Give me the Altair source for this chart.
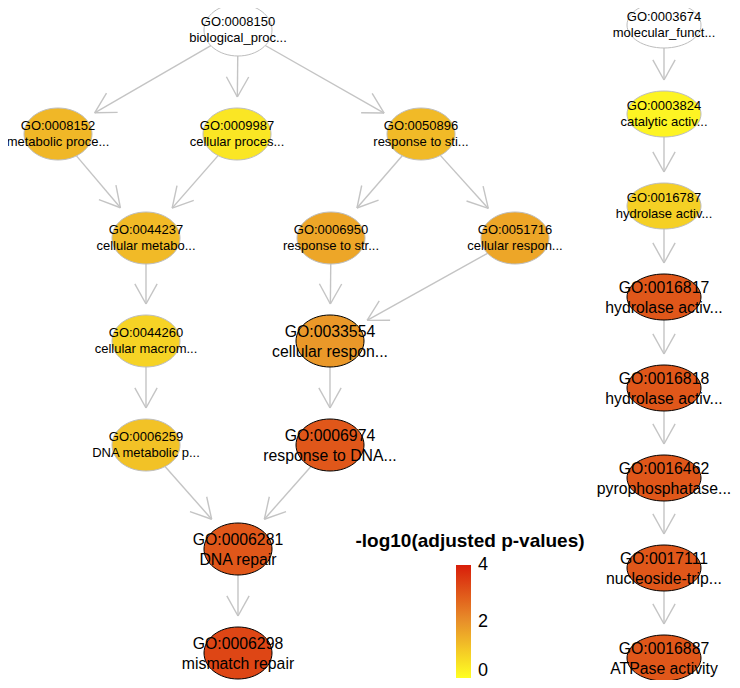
import math
import altair as alt
import pandas as pd

# ---------------- data ----------------
node_ids = ["GO:0008150", "GO:0008152", "GO:0009987", "GO:0050896",
            "GO:0044237", "GO:0006950", "GO:0051716", "GO:0044260",
            "GO:0033554", "GO:0006259", "GO:0006974", "GO:0006281",
            "GO:0006298",
            "GO:0003674", "GO:0003824", "GO:0016787", "GO:0016817",
            "GO:0016818", "GO:0016462", "GO:0017111", "GO:0016887"]
node_terms = ["biological_proc...", "metabolic proce...", "cellular proces...",
              "response to sti...", "cellular metabo...", "response to str...",
              "cellular respon...", "cellular macrom...", "cellular respon...",
              "DNA metabolic p...", "response to DNA...", "DNA repair",
              "mismatch repair",
              "molecular_funct...", "catalytic activ...", "hydrolase activ...",
              "hydrolase activ...", "hydrolase activ...", "pyrophosphatase...",
              "nucleoside-trip...", "ATPase activity"]
# layout position of each node (graph layout units)
node_x = [238, 58, 237, 421, 146, 331, 515, 146, 330, 146, 330, 238, 238,
          664, 664, 664, 664, 664, 664, 664, 664]
node_y = [30, 134, 134, 134, 238, 238, 238, 341, 341, 445, 445, 549, 653,
          25, 114, 206, 297, 388, 478, 568, 658]
# -log10(adjusted p-value); None = not tested (root)
node_value = [None, 1.3, 0.45, 1.25, 1.25, 1.6, 1.6, 0.8, 1.85, 1.1, 3.0, 3.0, 3.3,
              None, 0.2, 0.85, 3.0, 3.0, 3.0, 3.0, 3.0]
node_sig = [False, False, False, False, False, False, False, False, True, False,
            True, True, True,
            False, False, False, True, True, True, True, True]
node_tree = ["BP"] * 13 + ["MF"] * 8

edge_from = ["GO:0008150", "GO:0008150", "GO:0008150", "GO:0008152", "GO:0009987",
             "GO:0050896", "GO:0050896", "GO:0044237", "GO:0006950", "GO:0051716",
             "GO:0044260", "GO:0033554", "GO:0006259", "GO:0006974", "GO:0006281",
             "GO:0003674", "GO:0003824", "GO:0016787", "GO:0016817", "GO:0016818",
             "GO:0016462", "GO:0017111"]
edge_to = ["GO:0008152", "GO:0009987", "GO:0050896", "GO:0044237", "GO:0044237",
           "GO:0006950", "GO:0051716", "GO:0044260", "GO:0033554", "GO:0033554",
           "GO:0006259", "GO:0006974", "GO:0006281", "GO:0006281", "GO:0006298",
           "GO:0003824", "GO:0016787", "GO:0016817", "GO:0016818", "GO:0016462",
           "GO:0017111", "GO:0016887"]

legend_values = [0, 2, 4]
legend_title = "-log10(adjusted p-values)"

# ---------------- styles ----------------
ELL = {"BP": (34, 26), "MF": (37, 23)}
GAP = 11
ARM = 23
ANG = math.radians(29)
FONT = "Liberation Sans"
EDGE_COL = "#c4c4c4"
SMALL_FS, SMALL_LH = 13, 15.5
BIG_FS, BIG_LH = 15.8, 20
# colour bar placement (page pixels)
BAR_X, BAR_TOP, BAR_LEN, BAR_W = 456, 565, 113, 15
LABEL_MAX_Y = 671  # keep the lowest legend label inside the drawing


def ellipse_path(rx, ry):
    return f"M -{rx} 0 A {rx} {ry} 0 1 1 {rx} 0 A {rx} {ry} 0 1 1 -{rx} 0 Z"


nodes = pd.DataFrame({
    "id": node_ids, "term": node_terms, "x": node_x, "y": node_y,
    "value": node_value, "sig": node_sig, "tree": node_tree,
})
nodes["label"] = nodes["id"] + "\n" + nodes["term"]
nodes["sigs"] = nodes["sig"].map({True: "yes", False: "no"})
idx = {n: i for i, n in enumerate(node_ids)}

# edge geometry from node layout
erows, arows = [], []
for a, b in zip(edge_from, edge_to):
    ia, ib = idx[a], idx[b]
    x1, y1, x2, y2 = node_x[ia], node_y[ia], node_x[ib], node_y[ib]
    dx, dy = x2 - x1, y2 - y1
    L = math.hypot(dx, dy)
    ux, uy = dx / L, dy / L
    rxa, rya = ELL[node_tree[ia]]
    rxb, ryb = ELL[node_tree[ib]]
    ta = 1 / math.sqrt((ux / rxa) ** 2 + (uy / rya) ** 2)
    tb = 1 / math.sqrt((ux / rxb) ** 2 + (uy / ryb) ** 2)
    sx, sy = x1 + ux * ta, y1 + uy * ta
    ex, ey = x2 - ux * (tb + GAP), y2 - uy * (tb + GAP)
    erows.append({"x": sx, "y": sy, "x2": ex, "y2": ey})
    vx, vy = -ux, -uy
    for s in (1, -1):
        c, sn = math.cos(ANG), math.sin(ANG) * s
        ax = ex + ARM * (vx * c - vy * sn)
        ay = ey + ARM * (vx * sn + vy * c)
        arows.append({"x": ex, "y": ey, "x2": ax, "y2": ay})
edges = pd.DataFrame(erows + arows)

vmax = max(legend_values)
leg_labels = pd.DataFrame({
    "v": legend_values,
    "x": [BAR_X + BAR_W + 7] * len(legend_values),
    "y": [min(BAR_TOP + BAR_LEN * (1 - v / vmax), LABEL_MAX_Y) for v in legend_values],
})
leg_labels["t"] = leg_labels["v"].astype(str)

xs = alt.Scale(domain=[8, 732], nice=False, zero=False)
ys = alt.Scale(domain=[8, 680], nice=False, zero=False, reverse=True)

shape_scale = alt.Scale(domain=["BP", "MF"],
                        range=[ellipse_path(*ELL["BP"]), ellipse_path(*ELL["MF"])])
color_scale = alt.Scale(domain=[0, 2, 4], range=["#ffff22", "#e8902a", "#d81e0a"],
                        interpolate="rgb")

edge_layer = alt.Chart(edges).mark_rule(color=EDGE_COL, strokeWidth=1.4).encode(
    x=alt.X("x:Q", scale=xs, axis=None), y=alt.Y("y:Q", scale=ys, axis=None),
    x2="x2:Q", y2="y2:Q")

base_nodes = alt.Chart(nodes)

root_layer = base_nodes.transform_filter("datum.value == null").mark_point(
    filled=True, fill="white", stroke="#bdbdbd", strokeWidth=1, opacity=1, size=4
).encode(
    x=alt.X("x:Q", scale=xs, axis=None), y=alt.Y("y:Q", scale=ys, axis=None),
    shape=alt.Shape("tree:N", scale=shape_scale, legend=None))

col_layer = base_nodes.transform_filter("datum.value != null").mark_point(
    filled=True, strokeWidth=1, opacity=1, size=4
).encode(
    x=alt.X("x:Q", scale=xs, axis=None), y=alt.Y("y:Q", scale=ys, axis=None),
    shape=alt.Shape("tree:N", scale=shape_scale, legend=None),
    fill=alt.Fill("value:Q", scale=color_scale, legend=alt.Legend(
        title=None, orient="none", legendX=BAR_X - 8, legendY=BAR_TOP - 8,
        direction="vertical", gradientLength=BAR_LEN, gradientThickness=BAR_W,
        gradientStrokeWidth=0, values=legend_values, labelOpacity=0)),
    stroke=alt.Stroke("sigs:N", scale=alt.Scale(domain=["no", "yes"],
                                                range=["#bdbdbd", "#000000"]),
                      legend=None))

small_text = base_nodes.transform_filter("!datum.sig").mark_text(
    lineBreak="\n", font=FONT, fontSize=SMALL_FS, lineHeight=SMALL_LH, color="black",
    baseline="middle", align="center", dy=-SMALL_LH / 2).encode(
    x=alt.X("x:Q", scale=xs, axis=None), y=alt.Y("y:Q", scale=ys, axis=None),
    text="label:N")

big_text = base_nodes.transform_filter("datum.sig").mark_text(
    lineBreak="\n", font=FONT, fontSize=BIG_FS, lineHeight=BIG_LH, color="black",
    baseline="middle", align="center", dy=-BIG_LH / 2 + 1).encode(
    x=alt.X("x:Q", scale=xs, axis=None), y=alt.Y("y:Q", scale=ys, axis=None),
    text="label:N")

label_layer = alt.Chart(leg_labels).mark_text(
    font=FONT, fontSize=18, color="black", align="left", baseline="middle").encode(
    x=alt.X("x:Q", scale=xs, axis=None), y=alt.Y("y:Q", scale=ys, axis=None),
    text="t:N")

title_layer = alt.Chart(pd.DataFrame({"t": [legend_title]})).mark_text(
    font=FONT, fontSize=19, fontWeight="bold", color="black",
    align="center", baseline="alphabetic").encode(
    x=alt.datum(470, scale=xs), y=alt.datum(547, scale=ys), text="t:N")

chart = alt.layer(edge_layer, root_layer, col_layer, small_text, big_text,
                  label_layer, title_layer).properties(
    width=724, height=672, padding=0,
    autosize=alt.AutoSizeParams(type="none")
).configure_view(stroke=None)

chart.save("out.html", embed_options={"renderer": "svg", "actions": False})
